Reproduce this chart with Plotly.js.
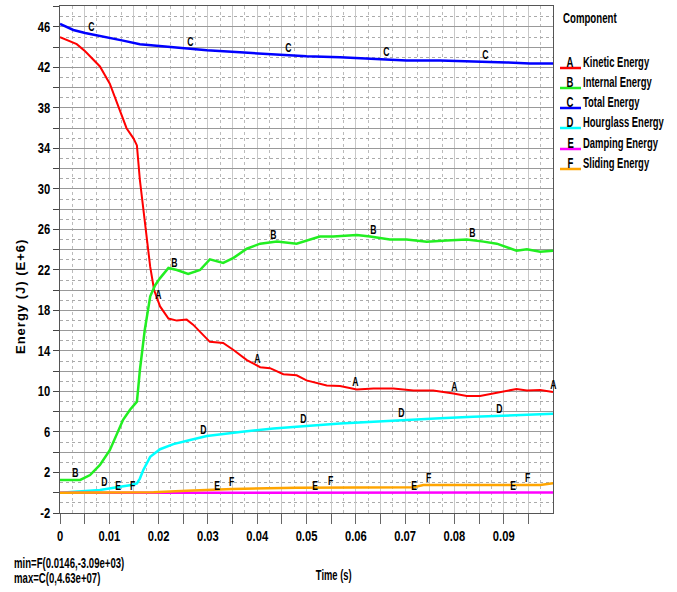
<!DOCTYPE html>
<html>
<head>
<meta charset="utf-8">
<script src="https://cdn.plot.ly/plotly-3.0.1.min.js"></script>
<style>
html,body{margin:0;padding:0;background:#fff;}
#chart{width:677px;height:592px;}
</style>
</head>
<body>
<div id="chart"></div>
<script>
// ---- data (Energy in E+6 J, time in s) ----
var kineticT = [0, 0.0034, 0.0051, 0.0081, 0.0101, 0.0118, 0.0135, 0.0149, 0.0156, 0.0162, 0.0172, 0.0183, 0.0191, 0.0203, 0.022, 0.0237, 0.0257, 0.027, 0.0304, 0.0331, 0.0352, 0.0379, 0.0406, 0.0426, 0.0453, 0.048, 0.05, 0.0541, 0.0568, 0.0602, 0.0636, 0.0676, 0.0717, 0.0757, 0.0798, 0.0825, 0.0852, 0.0879, 0.0906, 0.0926, 0.0947, 0.0974, 0.1];
var kineticE = [45.0, 44.3, 43.6, 42.1, 40.4, 38.1, 36.0, 35.0, 34.3, 30.9, 26.6, 22.3, 20.0, 18.4, 17.2, 17.0, 17.1, 16.6, 14.9, 14.8, 14.1, 13.1, 12.4, 12.3, 11.7, 11.6, 11.1, 10.6, 10.55, 10.2, 10.3, 10.3, 10.1, 10.1, 9.8, 9.55, 9.55, 9.8, 10.1, 10.25, 10.1, 10.15, 9.95];

var internalT = [0, 0.0041, 0.0061, 0.0081, 0.0101, 0.0115, 0.0128, 0.0142, 0.0156, 0.0159, 0.0162, 0.0172, 0.0183, 0.0193, 0.0203, 0.022, 0.0237, 0.026, 0.0284, 0.0304, 0.0331, 0.0352, 0.0379, 0.0406, 0.044, 0.048, 0.0527, 0.0554, 0.0602, 0.0629, 0.0669, 0.0703, 0.0744, 0.0784, 0.0825, 0.0859, 0.0886, 0.0926, 0.0947, 0.0974, 0.1];
var internalE = [1.26, 1.26, 1.75, 2.74, 4.2, 5.7, 7.2, 8.2, 9.0, 10.5, 12.1, 16.1, 19.4, 20.5, 21.2, 22.2, 22.0, 21.6, 22.0, 23.05, 22.7, 23.2, 24.1, 24.6, 24.8, 24.6, 25.3, 25.3, 25.45, 25.3, 25.0, 25.0, 24.8, 24.9, 25.0, 24.8, 24.6, 23.9, 24.05, 23.8, 23.9];

var totalT = [0, 0.0027, 0.0051, 0.0095, 0.0128, 0.0162, 0.023, 0.0298, 0.0365, 0.0433, 0.05, 0.0568, 0.0636, 0.0703, 0.0771, 0.0852, 0.0906, 0.0953, 0.1];
var totalE = [46.3, 45.7, 45.4, 45.0, 44.65, 44.3, 44.0, 43.7, 43.5, 43.3, 43.1, 43.0, 42.85, 42.7, 42.7, 42.6, 42.5, 42.4, 42.4];

var hourglassT = [0, 0.0041, 0.0081, 0.0122, 0.0145, 0.0156, 0.0162, 0.0169, 0.0183, 0.0203, 0.023, 0.0264, 0.0298, 0.0365, 0.0433, 0.05, 0.0568, 0.0636, 0.0703, 0.0771, 0.0838, 0.0906, 0.0974, 0.1];
var hourglassE = [0, 0.1, 0.27, 0.6, 0.77, 0.93, 1.4, 2.25, 3.55, 4.3, 4.8, 5.2, 5.6, 6.0, 6.35, 6.6, 6.85, 7.0, 7.2, 7.35, 7.5, 7.6, 7.7, 7.8];

var dampingT = [0, 0.02, 0.05, 0.1];
var dampingE = [0, 0, 0.01, 0.02];

var slidingT = [0, 0.0146, 0.019, 0.0257, 0.035, 0.048, 0.0717, 0.0737, 0.081, 0.0974, 0.1];
var slidingE = [0, -0.003, 0.04, 0.2, 0.37, 0.5, 0.55, 0.77, 0.75, 0.77, 0.93];

// curve label letters and their times
var seriesLetters = ['A', 'B', 'C', 'D', 'E', 'F'];
var seriesNames = ['Kinetic Energy', 'Internal Energy', 'Total Energy', 'Hourglass Energy', 'Damping Energy', 'Sliding Energy'];
var labelTimesA = [0.02, 0.04, 0.06, 0.08, 0.1];
var labelTimesB = [0.0032, 0.0233, 0.0434, 0.0635, 0.0836];
var labelTimesC = [0.0063, 0.0264, 0.0464, 0.0663, 0.0864];
var labelTimesD = [0.0091, 0.0292, 0.0493, 0.0692, 0.0892];
var labelTimesE = [0.0118, 0.0318, 0.0518, 0.0718, 0.0918];
var labelTimesF = [0.0148, 0.0348, 0.0548, 0.0748, 0.0948];

// tick labels
var xTickVals = [0,0.005,0.01,0.015,0.02,0.025,0.03,0.035,0.04,0.045,0.05,0.055,0.06,0.065,0.07,0.075,0.08,0.085,0.09,0.095];
var xTickText = ['0','','0.01','','0.02','','0.03','','0.04','','0.05','','0.06','','0.07','','0.08','','0.09',''];
var yTickVals = [-2,0,2,4,6,8,10,12,14,16,18,20,22,24,26,28,30,32,34,36,38,40,42,44,46,48];
var yTickText = ['-2','','2','','6','','10','','14','','18','','22','','26','','30','','34','','38','','42','','46',''];

var titleText = 'Component';
var xTitleText = 'Time (s)';
var yTitleText = 'Energy (J) (E+6)';
var minText = 'min=F(0.0146,-3.09e+03)';
var maxText = 'max=C(0,4.63e+07)';

// ---- styling ----
var colors = ['#ff0000', '#22ee22', '#0000ff', '#00ffff', '#ff00ff', '#ffa500'];
var widths = [2, 2.5, 2.5, 2.5, 2.5, 2.5];
var FONT = 'Liberation Sans, Arial, sans-serif';

var seriesT = [kineticT, internalT, totalT, hourglassT, dampingT, slidingT];
var seriesE = [kineticE, internalE, totalE, hourglassE, dampingE, slidingE];
var labelTimes = [labelTimesA, labelTimesB, labelTimesC, labelTimesD, labelTimesE, labelTimesF];

function interp(ts, es, t) {
  if (t <= ts[0]) return es[0];
  for (var i = 1; i < ts.length; i++) {
    if (t <= ts[i]) {
      var f = (t - ts[i-1]) / (ts[i] - ts[i-1]);
      return es[i-1] + f * (es[i] - es[i-1]);
    }
  }
  return es[es.length - 1];
}

var traces = [];
for (var s = 0; s < 6; s++) {
  traces.push({
    x: seriesT[s], y: seriesE[s], type: 'scatter', mode: 'lines',
    line: {color: colors[s], width: widths[s]},
    name: seriesNames[s], showlegend: false, hoverinfo: 'x+y'
  });
}

// plot area in pixels
var L = 60, R = 553, T = 6, B = 513;
function px(x) { return (x - L) / (R - L); }
function py(y) { return (B - y) / (B - T); }

var annotations = [];
var squeeze = []; // horizontal condense factor per annotation (0 = none)
function addAnn(a, sq) { annotations.push(a); squeeze.push(sq); }

for (var s = 0; s < 6; s++) {
  labelTimes[s].forEach(function(t) {
    addAnn({
      x: t, y: interp(seriesT[s], seriesE[s], t), xref: 'x', yref: 'y',
      text: '<b>' + seriesLetters[s] + '</b>', showarrow: false, xanchor: 'center', yanchor: 'bottom',
      yshift: -2,
      font: {family: FONT, size: 12, color: '#000'}
    }, 0.72);
  });
}

// legend (custom)
addAnn({x: px(561), y: py(18), xref: 'paper', yref: 'paper', text: '<b>' + titleText + '</b>',
  showarrow: false, xanchor: 'left', yanchor: 'middle', font: {family: FONT, size: 14, color: '#000'}}, 0.69);
var shapes = [];
var rowY = [62, 82, 102, 122, 143, 163];
for (var s = 0; s < 6; s++) {
  addAnn({x: px(570), y: py(rowY[s]), xref: 'paper', yref: 'paper', text: '<b>' + seriesLetters[s] + '</b>',
    showarrow: false, xanchor: 'center', yanchor: 'middle', font: {family: FONT, size: 14, color: '#000'}}, 0.68);
  addAnn({x: px(581), y: py(rowY[s]), xref: 'paper', yref: 'paper', text: '<b>' + seriesNames[s] + '</b>',
    showarrow: false, xanchor: 'left', yanchor: 'middle', font: {family: FONT, size: 14, color: '#000'}}, 0.675);
  shapes.push({type: 'line', xref: 'paper', yref: 'paper', x0: px(560), x1: px(581),
    y0: py(rowY[s] + 6), y1: py(rowY[s] + 6), line: {color: colors[s], width: 2.5}});
}

addAnn({x: px(333), y: py(575), xref: 'paper', yref: 'paper', text: '<b>' + xTitleText + '</b>',
  showarrow: false, xanchor: 'center', yanchor: 'middle', font: {family: FONT, size: 14, color: '#000'}}, 0.67);
addAnn({x: px(20), y: py(297), xref: 'paper', yref: 'paper', text: '<b>' + yTitleText + '</b>',
  showarrow: false, textangle: -90, xanchor: 'center', yanchor: 'middle', font: {family: FONT, size: 13, color: '#000'}}, 0);
var yTitleIndex = annotations.length - 1;
addAnn({x: px(12), y: py(563), xref: 'paper', yref: 'paper', text: '<b>' + minText + '</b>',
  showarrow: false, xanchor: 'left', yanchor: 'middle', font: {family: FONT, size: 14, color: '#000'}}, 0.685);
addAnn({x: px(12), y: py(578), xref: 'paper', yref: 'paper', text: '<b>' + maxText + '</b>',
  showarrow: false, xanchor: 'left', yanchor: 'middle', font: {family: FONT, size: 14, color: '#000'}}, 0.685);

var layout = {
  width: 677, height: 592,
  margin: {l: L, r: 677 - R, t: T, b: 592 - B, pad: 0},
  paper_bgcolor: '#fff', plot_bgcolor: '#fff',
  showlegend: false,
  font: {family: FONT, size: 12, color: '#000'},
  xaxis: {
    range: [0, 0.1], tickmode: 'array', tickvals: xTickVals, ticktext: xTickText,
    ticks: 'outside', ticklen: 10, tickcolor: '#666', tickwidth: 1,
    showline: true, linecolor: '#555', linewidth: 1, mirror: true,
    showgrid: true, gridcolor: '#c8c8c8', gridwidth: 1, zeroline: false,
    tickfont: {family: FONT, size: 14, color: '#000', weight: 'bold'},
    minor: {dtick: 0.0025, tick0: 0, showgrid: true, gridcolor: '#bbbbbb', griddash: 'dot', gridwidth: 1, ticks: ''}
  },
  yaxis: {
    range: [-2, 48.07], tickmode: 'array', tickvals: yTickVals, ticktext: yTickText,
    ticks: 'outside', ticklen: 6, tickcolor: '#444', tickwidth: 1,
    showline: true, linecolor: '#555', linewidth: 1, mirror: true,
    showgrid: true, gridcolor: '#999999', gridwidth: 1, zeroline: false,
    tickfont: {family: FONT, size: 14, color: '#000', weight: 'bold'},
    minor: {dtick: 1, tick0: 0, showgrid: true, gridcolor: '#aaaaaa', griddash: 'dot', gridwidth: 1, ticks: ''}
  },
  annotations: annotations,
  shapes: shapes
};

function condense(el, s, where) {
  var bb = el.getBBox();
  var ax = where === 'start' ? bb.x : (where === 'end' ? bb.x + bb.width : bb.x + bb.width / 2);
  var tr = el.getAttribute('transform') || '';
  el.setAttribute('transform', tr + ' translate(' + ax + ',0) scale(' + s + ',1) translate(' + (-ax) + ',0)');
}

Plotly.newPlot('chart', traces, layout, {displayModeBar: false, staticPlot: true}).then(function(gd) {
  gd.querySelectorAll('g.annotation').forEach(function(g) {
    var idx = +g.getAttribute('data-index');
    var txt = g.querySelector('text.annotation-text');
    if (!txt) return;
    if (idx === yTitleIndex) { txt.style.letterSpacing = '1px'; return; }
    var sq = squeeze[idx];
    if (!sq) return;
    var xa = annotations[idx].xanchor;
    condense(txt, sq, xa === 'left' ? 'start' : (xa === 'right' ? 'end' : 'middle'));
  });
  gd.querySelectorAll('g.xtick text').forEach(function(t) { condense(t, 0.8, 'middle'); });
  gd.querySelectorAll('g.ytick text').forEach(function(t) { condense(t, 0.8, 'end'); });
});
</script>
</body>
</html>
